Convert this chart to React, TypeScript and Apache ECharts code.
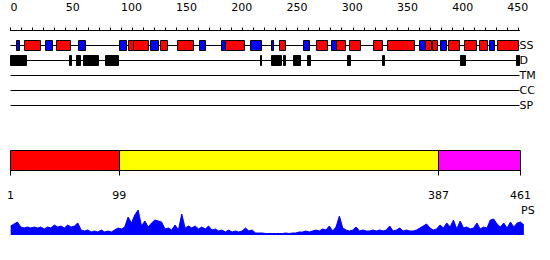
import React, { useEffect, useRef } from "react";
import * as echarts from "echarts";

const TRACKS = ["SS", "D", "TM", "CC", "SP"];
const PS_LABEL = "PS";
const SEQ_LENGTH = 461;
const TOP_LABEL_STEP = 50;

// secondary structure: helices (red) and strands (blue), residue ranges
const HELICES: [number, number][] = [
  [13, 27], [42, 54], [107, 111], [111, 125], [136, 142], [151, 166], [195, 212],
  [244, 249], [277, 287], [295, 303], [307, 317], [329, 337], [341, 366], [376, 381],
  [382, 387], [397, 407], [411, 422], [425, 432], [441, 460],
];
const STRANDS: [number, number][] = [
  [5, 8], [32, 38], [62, 68], [99, 105], [127, 134], [171, 177], [191, 195],
  [217, 227], [236, 238], [265, 271], [291, 295], [370, 376], [389, 395], [434, 438],
];
// disordered regions (black)
const DISORDER: [number, number][] = [
  [0, 14.5], [53, 55], [60, 63.5], [66.5, 80], [86, 98], [226, 227.5], [236, 245.5],
  [247, 249], [256, 263], [269, 272], [305, 308], [337, 338.5], [408, 412], [458, 461],
];

const DOMAIN_STARTS = [1, 99, 387];
const DOMAIN_ENDS = [99, 387, 461];
const DOMAIN_COLORS = ["#ff0000", "#ffff00", "#ff00ff"];
const DOMAIN_TICKS = [1, 99, 387, 461];

// PS profile, one value every 3 residues starting at residue 1
const PS_STEP = 3;
const PS_VALUES = [
  9, 11, 13, 8, 7, 8, 7, 8, 7, 8, 6, 8, 7, 10, 8, 9, 7, 10, 8, 9,
  12, 5, 4, 5, 3, 4, 3, 5, 3, 4, 3, 5, 7, 6, 8, 18, 12, 20, 25, 9,
  14, 8, 12, 15, 14, 13, 6, 7, 5, 10, 5, 21, 7, 9, 7, 9, 6, 8, 6, 9,
  5, 6, 4, 5, 3, 5, 3, 4, 3, 4, 7, 4, 5, 2, 2, 2, 1.5, 1.5, 1.5, 1.5,
  1.5, 1.5, 2, 1.5, 2, 2, 3, 3, 4, 3, 4, 5, 4, 6, 5, 9, 4, 8, 19, 7,
  5, 4, 5, 8, 4, 5, 4, 4, 5, 4, 5, 4, 5, 9, 4, 5, 7, 4, 5, 4,
  4, 5, 7, 9, 11, 7, 5, 6, 10, 7, 12, 8, 15, 6, 14, 7, 8, 6, 7, 12,
  6, 8, 7, 15, 16, 11, 8, 12, 7, 13, 8, 12, 13, 10,
];

const FONT = "DejaVu Sans";

export default function App() {
  const ref = useRef<HTMLDivElement>(null);
  useEffect(() => {
    if (!ref.current) return;
    const chart = echarts.init(ref.current, null, { renderer: "svg" });

    const crisp = (v: number) => Math.round(v - 0.5) + 0.5;

    const boxSeries = (ranges: [number, number][], track: number, fill: string) => ({
      type: "custom",
      xAxisIndex: 0,
      yAxisIndex: 0,
      z: 3,
      encode: { x: [0, 1], y: 2 },
      data: ranges.map(([s, e]) => [s, e, track]),
      renderItem: (_p: any, api: any) => {
        const p0 = api.coord([api.value(0), api.value(2)]);
        const p1 = api.coord([api.value(1), api.value(2)]);
        const x0 = crisp(p0[0]);
        const x1 = Math.max(crisp(p1[0]), x0 + 1);
        return {
          type: "rect",
          shape: { x: x0, y: p0[1] - 5, width: x1 - x0, height: 10 },
          style: { fill, stroke: "#000", lineWidth: 1 },
        };
      },
    });

    const option: any = {
      animation: false,
      backgroundColor: "#ffffff",
      textStyle: { fontFamily: FONT },
      grid: [
        { left: 10.5, top: 30.5, width: 509, height: 75 },
        { left: 10.5, top: 150.5, width: 510, height: 20 },
        { left: 10.7, top: 205, width: 514.3, height: 30 },
      ],
      xAxis: [
        {
          gridIndex: 0,
          type: "value",
          min: 0,
          max: SEQ_LENGTH,
          interval: 10,
          position: "top",
          offset: 16,
          axisLine: { show: true, lineStyle: { color: "#000", width: 1 } },
          axisTick: { show: true, length: 3, lineStyle: { color: "#000", width: 1 } },
          axisLabel: {
            show: true,
            margin: 2,
            align: "left",
            color: "#000",
            fontSize: 11,
            fontFamily: FONT,
            showMaxLabel: false,
            formatter: (v: number) => (v % TOP_LABEL_STEP === 0 ? String(v) : ""),
          },
          splitLine: { show: false },
        },
        {
          gridIndex: 1,
          type: "value",
          min: 1,
          max: SEQ_LENGTH,
          position: "bottom",
          offset: 10,
          axisLine: { show: true, lineStyle: { color: "#000", width: 1 } },
          axisTick: { show: true, length: 5, customValues: DOMAIN_TICKS, lineStyle: { color: "#000", width: 1 } },
          axisLabel: {
            show: true,
            margin: 9,
            customValues: DOMAIN_TICKS,
            color: "#000",
            fontSize: 11,
            fontFamily: FONT,
          },
          splitLine: { show: false },
        },
        {
          gridIndex: 2,
          type: "value",
          min: 1,
          max: SEQ_LENGTH,
          show: false,
        },
      ],
      yAxis: [
        {
          gridIndex: 0,
          type: "value",
          min: 0,
          max: 5,
          interval: 1,
          inverse: true,
          position: "right",
          axisLine: { show: false },
          axisTick: { show: false },
          splitLine: { show: false },
          axisLabel: {
            show: true,
            margin: 0,
            color: "#000",
            fontSize: 11,
            fontFamily: FONT,
            formatter: (v: number) => TRACKS[v - 1] ?? "",
          },
        },
        { gridIndex: 1, type: "value", min: 0, max: 1, show: false },
        { gridIndex: 2, type: "value", min: 0, max: 30, show: false },
      ],
      series: [
        {
          type: "custom",
          xAxisIndex: 0,
          yAxisIndex: 0,
          z: 2,
          encode: { y: 0 },
          data: TRACKS.map((_, i) => [i + 1]),
          renderItem: (_p: any, api: any) => {
            const a = api.coord([0, api.value(0)]);
            const b = api.coord([SEQ_LENGTH, api.value(0)]);
            return {
              type: "line",
              shape: { x1: a[0], y1: a[1], x2: b[0], y2: b[1] },
              style: { stroke: "#000", lineWidth: 1 },
            };
          },
        },
        boxSeries(HELICES, 1, "#ff0000"),
        boxSeries(STRANDS, 1, "#0000ff"),
        boxSeries(DISORDER, 2, "#000000"),
        {
          type: "custom",
          xAxisIndex: 1,
          yAxisIndex: 1,
          z: 3,
          encode: { x: [0, 1] },
          data: DOMAIN_STARTS.map((s, i) => [s, DOMAIN_ENDS[i], i]),
          renderItem: (_p: any, api: any) => {
            const p0 = api.coord([api.value(0), 1]);
            const p1 = api.coord([api.value(1), 0]);
            const x0 = crisp(p0[0]);
            const x1 = crisp(p1[0]);
            return {
              type: "rect",
              shape: { x: x0, y: p0[1], width: x1 - x0, height: p1[1] - p0[1] },
              style: { fill: DOMAIN_COLORS[api.value(2)], stroke: "#000", lineWidth: 1 },
            };
          },
        },
        {
          type: "line",
          xAxisIndex: 2,
          yAxisIndex: 2,
          symbol: "none",
          data: PS_VALUES.map((v, k) => [1 + k * PS_STEP, v]),
          lineStyle: { color: "#0000ff", width: 1 },
          itemStyle: { color: "#0000ff" },
          areaStyle: { color: "#0000ff", opacity: 1, origin: "start" },
        },
      ],
      graphic: [
        {
          type: "text",
          left: 521,
          top: 205,
          style: { text: PS_LABEL, fill: "#000", font: `11px '${FONT}'` },
        },
      ],
    };
    chart.setOption(option);
    return () => chart.dispose();
  }, []);

  return (
    <div
      ref={ref}
      style={{ position: "fixed", left: 0, top: 0, width: 550, height: 260, background: "#fff" }}
    />
  );
}
